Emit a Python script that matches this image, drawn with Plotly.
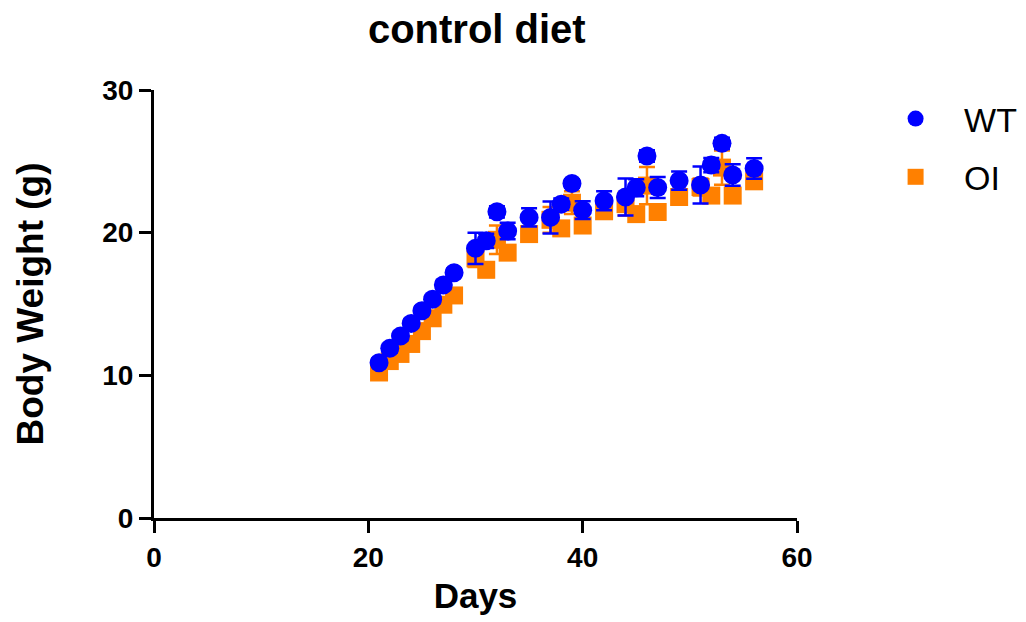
import plotly.graph_objects as go

days = [21, 22, 23, 24, 25, 26, 27, 28, 30, 31, 32, 33, 35, 37, 38, 39, 40, 42, 44, 45, 46, 47, 49, 51, 52, 53, 54, 56]

wt_mean = [10.88, 11.89, 12.75, 13.64, 14.53, 15.33, 16.33, 17.19, 18.9, 19.43, 21.46, 20.11, 21.07, 21.07, 22.0, 23.45, 21.58, 22.24, 22.5, 23.15, 25.37, 23.17, 23.64, 23.34, 24.74, 26.26, 24.04, 24.5]
wt_sem = [0.3, 0.3, 0.3, 0.3, 0.3, 0.3, 0.3, 0.3, 1.1, 0.5, 0.4, 0.58, 0.64, 1.12, 0.4, 0.3, 0.62, 0.67, 1.3, 0.6, 0.4, 0.74, 0.64, 1.3, 0.5, 0.4, 0.76, 0.72]

oi_mean = [10.2, 11.0, 11.5, 12.2, 13.1, 14.0, 14.95, 15.6, 18.2, 17.4, 19.5, 18.6, 19.9, 20.9, 20.3, 22.1, 20.5, 21.5, 22.0, 21.3, 23.3, 21.45, 22.5, 23.2, 22.6, 24.56, 22.6, 23.6]
oi_sem = [0.3, 0.3, 0.3, 0.3, 0.3, 0.3, 0.3, 0.3, 0.6, 0.5, 1.0, 0.4, 0.3, 0.9, 0.5, 0.8, 0.3, 0.4, 0.8, 0.5, 1.3, 0.5, 0.4, 0.6, 0.5, 1.2, 0.5, 0.4]

x_ticks = [0, 20, 40, 60]
y_ticks = [0, 10, 20, 30]

BLUE = "#0000FF"
ORANGE = "#FF8000"
FONT = "Arial, 'Liberation Sans', sans-serif"

fig = go.Figure()
fig.add_trace(go.Scatter(
    x=days, y=oi_mean, mode="markers", name="OI", legendrank=2, legendgroup="oi",
    marker=dict(symbol="square", size=18, color=ORANGE, line=dict(width=0)),
    error_y=dict(type="data", array=oi_sem, color=ORANGE, thickness=2.5, width=8),
))
fig.add_trace(go.Scatter(
    x=days, y=wt_mean, mode="markers", name="WT", legendrank=1, legendgroup="wt",
    marker=dict(symbol="circle", size=19, color=BLUE, line=dict(width=0)),
    error_y=dict(type="data", array=wt_sem, color=BLUE, thickness=2.5, width=8),
))

fig.update_layout(
    width=1026, height=622,
    margin=dict(l=146, r=237, t=82, b=112, autoexpand=False),
    paper_bgcolor="white", plot_bgcolor="white",
    font=dict(family=FONT, color="black"),
    title=dict(text="<b>control diet</b>", x=0.502, xref="paper", xanchor="center",
               y=0.967, yref="container", yanchor="middle",
               font=dict(size=40, family=FONT, color="black")),
    showlegend=True,
    legend=dict(x=1.109, y=1.0, xanchor="left", yanchor="top",
                font=dict(size=34, family=FONT, color="black"),
                itemsizing="trace", traceorder="grouped", tracegroupgap=11, itemwidth=87,
                bgcolor="rgba(0,0,0,0)"),
    xaxis=dict(range=[0, 60], tickvals=x_ticks, showline=True, linecolor="black", linewidth=3,
               ticks="outside", ticklen=12, tickwidth=3, tickcolor="black",
               showgrid=False, zeroline=False, automargin=False,
               tickfont=dict(size=28, family=FONT, color="black", weight="bold"),
               title=dict(text="<b>Days</b>", font=dict(size=35, family=FONT, color="black"), standoff=12)),
    yaxis=dict(range=[0, 30], tickvals=y_ticks, showline=True, linecolor="black", linewidth=3,
               ticks="outside", ticklen=12, tickwidth=3, tickcolor="black",
               showgrid=False, zeroline=False, automargin=False,
               tickfont=dict(size=28, family=FONT, color="black", weight="bold"),
               title=dict(text="<b>Body Weight (g)</b>", font=dict(size=37, family=FONT, color="black"), standoff=48)),
)

fig.write_html("out.html")
